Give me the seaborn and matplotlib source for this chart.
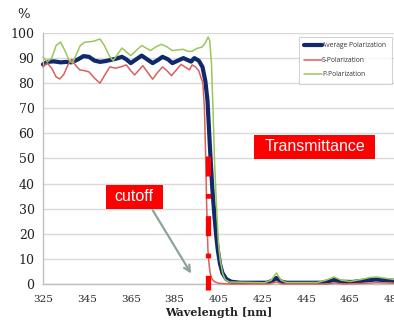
import matplotlib
matplotlib.use('Agg')
import matplotlib.pyplot as plt
from matplotlib.patches import Rectangle
import seaborn as sns
import pandas as pd

# values
avg_nm = [325, 327, 330, 333, 336, 338, 341, 343.5, 346, 348.5, 351, 353.5, 356, 358.5, 361, 363,
          365, 367.5, 370, 372.5, 375, 377.5, 379.5, 382, 384, 386.5, 389, 391, 392.5, 394, 396,
          397.7, 399, 400, 400.6, 401.2, 402.2, 403.2, 404, 404.7, 405.7, 406.8, 408.5, 410.8,
          415, 427, 429.5, 431.4, 433.5, 436, 452, 455, 457.7, 461, 466, 471, 476.8, 481, 485]
avg_pct = [87.5, 88.5, 88.7, 88.3, 88.5, 88.3, 89.5, 90.8, 90.5, 89, 88.5, 88.8, 89.3, 89.8, 90.5, 89.5,
           88, 89.5, 91, 89.5, 88, 89.3, 90.5, 89.5, 88, 89, 90, 89.2, 88.6, 90, 89,
           86.5, 81, 73, 63, 53, 38, 26.7, 19, 13.5, 8, 4.4, 2, 0.9,
           0.5, 0.5, 1.2, 2.4, 1, 0.5, 0.5, 1.1, 1.6, 0.9, 0.8, 1.3, 1.8, 1.5, 1.3]

s_nm = [325, 327, 329, 331, 332.7, 334.5, 336.5, 338, 340, 341.8, 344, 346, 348.5, 351, 353, 355.5,
        358, 360.5, 363, 365, 366.8, 368.5, 370.5, 373, 375, 377, 379.5, 381.5, 383.6, 386, 388,
        390, 391.8, 393, 394.5, 396, 397.9, 398.6, 399.1, 399.6, 400.2, 400.7, 401.2, 402, 403.2,
        405, 410, 428, 431.4, 434, 455, 458, 462, 470, 477, 485]
s_pct = [86.5, 88, 86, 82.5, 81.7, 83.5, 87.5, 89.5, 87, 85.3, 85, 84.5, 82, 80, 83, 86.5,
         86, 86.5, 87.3, 85, 83.3, 85, 87, 84, 81.6, 84, 86.5, 85, 83, 85.5, 87.5,
         86.3, 85.3, 87.3, 86.5, 85, 80, 70, 53, 32, 13.5, 8, 4.4, 2, 0.9,
         0.3, 0, 0, 0.8, 0, 0, 0.4, 0, 0.2, 0.5, 0.3]

p_nm = [325, 327, 329, 331, 333, 335, 337, 338.5, 340, 342, 344, 348, 351, 353, 355.5, 357, 359,
        361, 363, 365, 367.5, 370, 372, 374, 376.5, 379, 381.5, 384, 386.5, 389, 391, 393, 395,
        397.5, 399, 400.3, 401, 401.8, 402.5, 403.2, 404, 405, 405.8, 407, 408, 410,
        426, 429, 431.4, 433.5, 436, 450, 454, 457.7, 461, 465, 470, 474, 477, 481, 485]
p_pct = [90.4, 88.5, 90, 95, 96.4, 93, 89, 88, 91, 95, 96.3, 96.7, 97.6, 95, 90.5, 89, 91.5,
         94, 92.5, 91, 93, 95, 94, 93, 94.5, 95.5, 94.5, 93, 93.3, 93.5, 92.7, 92.7, 93.8,
         94.4, 96, 98.4, 97, 88, 70, 49, 33, 16, 9.5, 4, 1.8, 0.8,
         0.5, 1.5, 4.4, 1.5, 0.6, 0.6, 1.5, 2.8, 1.5, 1, 1.8, 2.6, 2.8, 2.3, 1.8]

series_names = ['Average Polarization', 'S-Polarization', 'P-Polarization']
series_colors = ['#10296a', '#d9605c', '#9cc65b']
series_widths = [3.0, 1.1, 1.1]

cutoff_nm = 400
cutoff_top = 51
cutoff_bottom = -2.5
x_ticks = [325, 345, 365, 385, 405, 425, 445, 465, 485]
y_ticks = [0, 10, 20, 30, 40, 50, 60, 70, 80, 90, 100]

df = pd.concat([
    pd.DataFrame({'nm': avg_nm, 'pct': avg_pct, 'series': series_names[0]}),
    pd.DataFrame({'nm': s_nm, 'pct': s_pct, 'series': series_names[1]}),
    pd.DataFrame({'nm': p_nm, 'pct': p_pct, 'series': series_names[2]}),
])

sns.set_style('white')
plt.rcParams['font.family'] = ['DejaVu Serif']

fig = plt.figure(figsize=(3.94, 3.30), dpi=100)
ax = fig.add_axes([0.109, 0.1394, 0.891, 0.7606])

ax.yaxis.grid(True, color='#d9d9d9', lw=1.0)
ax.set_axisbelow(True)

# draw the average line first, thin lines on top of it
for name, col, lw in zip(series_names, series_colors, series_widths):
    sub = df[df['series'] == name]
    sns.lineplot(data=sub, x='nm', y='pct', ax=ax, color=col, lw=lw,
                 estimator=None, sort=False, label=name, clip_on=False,
                 solid_joinstyle='round',
                 zorder=3 if name != series_names[0] else 2)

# dashed cutoff marker
ax.plot([cutoff_nm, cutoff_nm], [cutoff_top, cutoff_bottom], color='#ff0000', lw=3.8,
        linestyle=(0, (3.8, 3.3, 0.9, 3.3)), solid_capstyle='butt', dash_capstyle='butt',
        clip_on=False, zorder=4)

ax.set_xlim(325, 485)
ax.set_ylim(0, 100)
ax.set_xticks(x_ticks)
ax.set_yticks(y_ticks)
for s in ['top', 'right']:
    ax.spines[s].set_visible(False)
for s in ['left', 'bottom']:
    ax.spines[s].set_color('#bfbfbf')
    ax.spines[s].set_linewidth(1.0)
ax.tick_params(axis='x', length=3, color='#bfbfbf', pad=5, labelsize=7.5, labelcolor='#222222')
ax.tick_params(axis='y', length=2.5, color='#bfbfbf', pad=3.5, labelsize=9, labelcolor='#222222')
ax.set_xlabel('Wavelength [nm]', fontsize=8, fontweight='bold', color='#222222', labelpad=2)
ax.set_ylabel('')
fig.text(23.5 / 394, 1 - 14 / 330, '%', fontsize=9.5, ha='center', va='center', color='#222222')

leg = ax.legend(loc='upper left', bbox_to_anchor=(299 / 394, 1 - 37 / 330),
                bbox_transform=fig.transFigure, frameon=True, fancybox=False,
                prop={'family': 'Open Sans', 'size': 4.9}, handlelength=2.6,
                handletextpad=0.0, labelspacing=1.1, borderpad=0.8, borderaxespad=0)
leg.get_frame().set_edgecolor('#c8c8c8')
leg.get_frame().set_linewidth(0.8)
for t in leg.get_texts():
    t.set_color('#333333')

# annotation boxes
ax.add_patch(Rectangle((421.4, 49.8), 55, 9.6, facecolor='#ff0000', edgecolor='none',
                       clip_on=False, zorder=5))
ax.text(448.9, 54.6, 'Transmittance', ha='center', va='center', color='white',
        fontsize=11.5, family='Liberation Sans', zorder=6)
ax.add_patch(Rectangle((353.6, 29.9), 25.9, 9.6, facecolor='#ff0000', edgecolor='none',
                       clip_on=False, zorder=5))
ax.text(366.6, 34.7, 'cutoff', ha='center', va='center', color='white',
        fontsize=11.5, family='Liberation Sans', zorder=6)
ax.annotate('', xy=(393.2, 3.2), xytext=(374.4, 30.3),
            arrowprops=dict(arrowstyle='->', color='#8fa39a', lw=1.6, mutation_scale=11),
            zorder=5)

fig.savefig('out.png', dpi=100)
